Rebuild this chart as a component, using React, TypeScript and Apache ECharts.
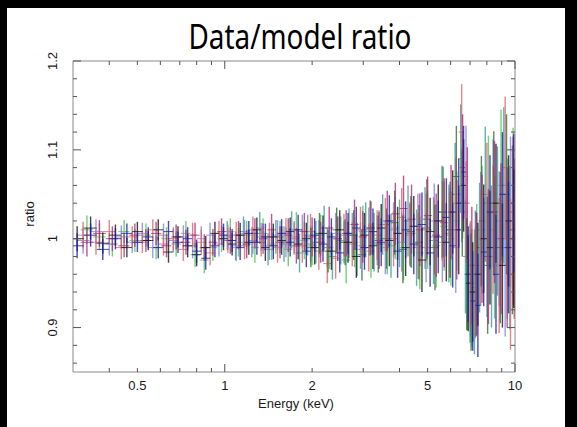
import React, { useEffect, useRef } from "react";
import * as echarts from "echarts";

// ---- energy grids (keV) ----
const eGridA = [
  0.31, 0.345, 0.38, 0.42, 0.46, 0.5, 0.545, 0.59, 0.64, 0.69,
  0.745, 0.8, 0.86, 0.925, 0.99, 1.06, 1.13, 1.21, 1.29, 1.38,
  1.47, 1.57, 1.68, 1.79, 1.91, 2.04, 2.18, 2.33, 2.49, 2.66,
  2.84, 3.03, 3.24, 3.46, 3.69, 3.94, 4.2, 4.48, 4.78, 5.1,
  5.44, 5.8, 6.1, 6.4, 6.65, 6.9, 7.15, 7.45, 7.8, 8.2,
  8.6, 9.05, 9.5, 9.9,
];
const errGridA = [
  0.014, 0.013, 0.012, 0.012, 0.011, 0.011, 0.011, 0.012, 0.012, 0.012,
  0.013, 0.013, 0.013, 0.013, 0.013, 0.013, 0.014, 0.014, 0.014, 0.015,
  0.015, 0.016, 0.016, 0.017, 0.018, 0.019, 0.02, 0.021, 0.022, 0.023,
  0.024, 0.025, 0.026, 0.027, 0.029, 0.03, 0.032, 0.034, 0.036, 0.038,
  0.041, 0.044, 0.047, 0.05, 0.052, 0.054, 0.056, 0.058, 0.061, 0.064,
  0.067, 0.07, 0.074, 0.078,
];
const eGridB = [
  0.325, 0.36, 0.4, 0.44, 0.48, 0.52, 0.565, 0.615, 0.665, 0.72,
  0.775, 0.83, 0.89, 0.955, 1.025, 1.095, 1.17, 1.25, 1.335, 1.425,
  1.52, 1.625, 1.735, 1.85, 1.975, 2.11, 2.255, 2.41, 2.575, 2.75,
  2.935, 3.135, 3.35, 3.575, 3.815, 4.07, 4.34, 4.63, 4.94, 5.27,
  5.62, 5.95, 6.25, 6.55, 6.78, 7.02, 7.3, 7.62, 8.0, 8.4,
  8.82, 9.25, 9.65, 9.95,
];
const errGridB = [
  0.015, 0.014, 0.013, 0.013, 0.012, 0.012, 0.012, 0.013, 0.013, 0.013,
  0.014, 0.014, 0.014, 0.014, 0.014, 0.015, 0.015, 0.015, 0.016, 0.016,
  0.017, 0.017, 0.018, 0.019, 0.02, 0.021, 0.022, 0.023, 0.024, 0.025,
  0.026, 0.027, 0.028, 0.03, 0.031, 0.033, 0.035, 0.037, 0.039, 0.042,
  0.045, 0.048, 0.051, 0.054, 0.057, 0.06, 0.062, 0.065, 0.068, 0.072,
  0.076, 0.08, 0.085, 0.09,
];
const eGridC = [
  0.335, 0.37, 0.41, 0.45, 0.49, 0.535, 0.58, 0.63, 0.68, 0.735,
  0.79, 0.85, 0.91, 0.975, 1.045, 1.115, 1.19, 1.27, 1.355, 1.45,
  1.55, 1.655, 1.765, 1.88, 2.0, 2.14, 2.29, 2.45, 2.62, 2.8,
  2.99, 3.19, 3.4, 3.63, 3.87, 4.13, 4.4, 4.7, 5.0, 5.35,
  5.7, 6.02, 6.3, 6.6, 6.85, 7.1, 7.38, 7.7, 8.1, 8.5,
  8.95, 9.4, 9.85,
];
const errGridC = [
  0.016, 0.015, 0.014, 0.013, 0.013, 0.013, 0.013, 0.013, 0.014, 0.014,
  0.014, 0.015, 0.015, 0.015, 0.015, 0.016, 0.016, 0.017, 0.017, 0.018,
  0.018, 0.019, 0.02, 0.021, 0.022, 0.023, 0.024, 0.025, 0.026, 0.028,
  0.029, 0.03, 0.032, 0.034, 0.035, 0.037, 0.039, 0.041, 0.044, 0.047,
  0.05, 0.053, 0.056, 0.06, 0.063, 0.066, 0.069, 0.072, 0.076, 0.08,
  0.085, 0.09, 0.095,
];
const eGridD = [
  1.02, 1.09, 1.16, 1.24, 1.32, 1.41, 1.5, 1.6, 1.7, 1.81,
  1.93, 2.06, 2.2, 2.35, 2.51, 2.68, 2.86, 3.06, 3.27, 3.5,
  3.74, 4.0, 4.28, 4.58, 4.9, 5.24, 5.6, 5.92, 6.22, 6.5,
  6.75, 7.0, 7.25, 7.55, 7.9, 8.3, 8.7, 9.15, 9.6,
];
const errGridD = [
  0.016, 0.016, 0.017, 0.017, 0.018, 0.018, 0.019, 0.02, 0.021, 0.022,
  0.023, 0.024, 0.025, 0.026, 0.027, 0.028, 0.03, 0.031, 0.033, 0.034,
  0.036, 0.038, 0.04, 0.043, 0.046, 0.049, 0.052, 0.055, 0.058, 0.061,
  0.064, 0.067, 0.07, 0.073, 0.076, 0.08, 0.084, 0.088, 0.092,
];
const eGridE = [
  1.98, 2.12, 2.27, 2.43, 2.6, 2.78, 2.97, 3.17, 3.38, 3.61,
  3.85, 4.11, 4.38, 4.67, 4.97, 5.3, 5.65, 5.98, 6.28, 6.58,
  6.82, 7.06, 7.34, 7.66, 8.05, 8.45, 8.9, 9.35, 9.8,
];
const errGridE = [
  0.022, 0.023, 0.024, 0.025, 0.026, 0.028, 0.029, 0.031, 0.032, 0.034,
  0.036, 0.038, 0.04, 0.042, 0.045, 0.048, 0.051, 0.054, 0.057, 0.06,
  0.063, 0.066, 0.07, 0.073, 0.077, 0.081, 0.085, 0.09, 0.095,
];

// ---- data/model ratios ----
const ratioBlack = [
  1.0, 1.012, 0.995, 1.004, 0.99, 1.008, 0.998, 1.01, 0.985, 1.002,
  0.992, 0.982, 0.99, 1.006, 1.0, 0.994, 1.004, 0.996, 1.01, 0.99,
  1.002, 0.998, 1.008, 0.994, 1.0, 0.99, 1.006, 0.986, 1.01, 0.996,
  0.98, 1.004, 0.992, 1.012, 0.998, 1.006, 0.99, 1.014, 0.976, 1.008,
  1.02, 0.996, 1.03, 1.01, 1.06, 0.95, 0.94, 0.96, 1.0, 0.99,
  1.04, 0.97, 1.02, 1.0,
];
const ratioBlue = [
  0.992, 1.004, 0.988, 1.0, 1.006, 0.996, 1.002, 0.99, 1.008, 0.996,
  1.0, 0.986, 0.978, 0.992, 1.004, 0.998, 0.99, 1.006, 0.996, 1.002,
  0.992, 1.006, 0.996, 1.01, 0.986, 1.004, 0.994, 1.002, 0.984, 1.006,
  1.012, 0.99, 1.008, 0.996, 1.02, 0.986, 1.01, 0.994, 1.016, 0.984,
  1.002, 1.024, 0.992, 1.04, 1.075, 0.96, 0.93, 0.925, 0.985, 1.03,
  0.96, 1.05, 0.99, 1.04,
];
const ratioRed = [
  1.004, 0.996, 1.008, 0.99, 1.002, 0.996, 1.01, 0.994, 1.0, 0.988,
  1.004, 0.996, 0.984, 1.006, 0.998, 1.004, 0.992, 1.01, 0.996, 1.002,
  0.99, 1.006, 1.0, 0.992, 1.008, 0.986, 0.972, 0.978, 1.004, 0.994,
  1.01, 0.99, 1.004, 1.016, 1.0, 1.024, 1.006, 0.992, 1.012, 1.002,
  1.02, 1.004, 1.04, 1.12, 1.03, 0.96, 0.95, 0.99, 1.04, 1.01,
  0.97, 1.08, 0.96, 1.0,
];
const ratioViolet = [
  0.998, 1.008, 0.994, 1.002, 0.996, 1.006, 0.99, 1.004, 0.998, 1.002,
  0.992, 1.0, 1.004, 0.994, 1.002, 0.99, 1.006, 0.998, 1.002, 0.992,
  1.004, 0.996, 1.002, 1.008, 0.994, 1.0, 0.99, 1.006, 0.996, 1.004,
  0.992, 1.008, 0.998, 0.99, 1.01, 0.996, 1.004, 1.014, 0.99, 1.02,
  0.996, 1.01, 0.99, 1.05, 1.07, 0.95, 0.97, 1.01, 0.98, 1.04,
  1.0, 0.97, 1.03, 1.0,
];
const ratioGreen = [
  1.01, 1.002, 0.994, 1.008, 0.998, 1.004, 0.99, 1.0, 0.994, 1.006,
  0.982, 0.976, 0.99, 1.0, 1.008, 0.996, 1.004, 0.99, 1.006, 0.994,
  1.002, 0.988, 1.01, 0.998, 0.992, 1.004, 0.99, 1.0, 0.976, 0.996,
  1.008, 0.986, 1.0, 0.994, 1.012, 0.99, 1.006, 0.984, 1.01, 0.992,
  1.014, 1.0, 1.02, 1.06, 0.96, 0.945, 0.97, 1.01, 1.04, 0.99,
  1.06, 1.0, 1.03,
];
const ratioMagenta = [
  0.996, 1.006, 1.0, 0.992, 1.004, 0.998, 1.006, 0.992, 1.002, 0.996,
  1.004, 0.99, 0.996, 1.008, 0.998, 1.004, 0.994, 1.006, 1.0, 1.01,
  0.996, 1.004, 0.992, 1.008, 1.002, 0.996, 1.012, 1.0, 1.006, 1.016,
  1.002, 1.012, 0.998, 1.02, 1.028, 1.034, 1.022, 1.01, 1.026, 1.004,
  1.018, 1.03, 1.01, 1.08, 1.04, 0.97, 0.96, 1.0, 0.98, 1.03,
  1.0, 0.99, 1.02,
];
const ratioTeal = [
  1.004, 0.992, 1.008, 0.996, 1.012, 0.988, 1.002, 0.994, 1.01, 0.984,
  1.004, 0.996, 1.012, 0.98, 0.998, 1.006, 0.988, 1.01, 0.996, 1.016,
  0.992, 1.006, 1.02, 0.99, 1.012, 0.998, 1.03, 1.006, 1.05, 1.09,
  0.98, 0.95, 0.94, 0.99, 1.05, 0.98, 1.02, 1.06, 0.99,
];
const ratioDarkGreen = [
  0.99, 1.006, 0.986, 1.01, 0.996, 1.004, 0.982, 1.012, 0.994, 1.0,
  1.018, 0.988, 1.008, 0.996, 1.022, 0.99, 1.03, 1.01, 1.07, 1.04,
  0.96, 0.94, 0.96, 1.02, 0.97, 1.04, 0.99, 1.05, 1.01,
];

// ---- axis ticks / labels ----
const xLabelValues = [0.5, 1, 2, 5, 10];
const xTickLabels = ["0.5", "1", "2", "5", "10"];
const xMajorTicks = [1, 10];
const xMinorTicks = [0.4, 0.5, 0.6, 0.7, 0.8, 0.9, 2, 3, 4, 5, 6, 7, 8, 9];
const yLabelValues = [0.9, 1, 1.1, 1.2];
const yTickLabels = ["0.9", "1", "1.1", "1.2"];
const yMajorTicks = [0.9, 1.0, 1.1, 1.2];
const yMinorTicks = [0.86, 0.88, 0.92, 0.94, 0.96, 0.98, 1.02, 1.04, 1.06, 1.08, 1.12, 1.14, 1.16, 1.18];

const X_MIN = 0.3;
const X_MAX = 10;
const Y_MIN = 0.85;
const Y_MAX = 1.2;

const AXIS_FONT = '13px "Liberation Sans", Arial, sans-serif';
const FRAME = "#8a8a8a";

function buildBars(E: number[], v: number[], err: number[]) {
  return E.map((e, i) => {
    const prev = i > 0 ? E[i - 1] : (e * e) / E[i + 1];
    const next = i < E.length - 1 ? E[i + 1] : (e * e) / E[i - 1];
    const lo = Math.max(Math.sqrt(prev * e), X_MIN);
    const hi = Math.min(Math.sqrt(e * next), X_MAX);
    return [e, v[i], err[i], lo, hi];
  });
}

function errSeries(name: string, color: string, data: number[][]) {
  return {
    type: "custom",
    name,
    clip: true,
    silent: true,
    data,
    renderItem: (params: any, api: any) => {
      const e = api.value(0);
      const v = api.value(1);
      const er = api.value(2);
      const lo = api.value(3);
      const hi = api.value(4);
      const a = api.coord([lo, v]);
      const b = api.coord([hi, v]);
      const c = api.coord([e, v - er]);
      const d = api.coord([e, v + er]);
      const style = { stroke: color, lineWidth: 1.4, opacity: 0.8 };
      return {
        type: "group",
        children: [
          { type: "line", shape: { x1: a[0], y1: a[1], x2: b[0], y2: b[1] }, style: { ...style, lineWidth: 1 } },
          { type: "line", shape: { x1: c[0], y1: c[1], x2: d[0], y2: d[1] }, style },
        ],
      };
    },
  };
}

export default function App() {
  const ref = useRef<HTMLDivElement>(null);

  useEffect(() => {
    if (!ref.current) return;
    const chart = echarts.init(ref.current, undefined, { renderer: "svg" });

    const xTicks = [
      ...xMajorTicks.map((t) => [t, 1, 1]),
      ...xMinorTicks.map((t) => [t, 1, 0]),
    ];
    const yTicks = [
      ...yMajorTicks.map((t) => [1, t, 1]),
      ...yMinorTicks.map((t) => [1, t, 0]),
    ];

    const center = { align: "center", textAlign: "center", verticalAlign: "middle", textVerticalAlign: "middle" };

    const option: any = {
      animation: false,
      backgroundColor: "#ffffff",
      grid: {
        left: 73,
        top: 61,
        right: 62,
        bottom: 55,
        show: true,
        borderColor: FRAME,
        borderWidth: 1,
        backgroundColor: "transparent",
      },
      xAxis: {
        type: "log",
        logBase: 10,
        min: X_MIN,
        max: X_MAX,
        axisLine: { show: false },
        axisTick: { show: false },
        axisLabel: { show: false },
        splitLine: { show: false },
      },
      yAxis: {
        type: "value",
        min: Y_MIN,
        max: Y_MAX,
        axisLine: { show: false },
        axisTick: { show: false },
        axisLabel: { show: false },
        splitLine: { show: false },
      },
      graphic: [
        { type: "rect", shape: { x: 0, y: 0, width: 7, height: 427 }, style: { fill: "#000" } },
        { type: "rect", shape: { x: 0, y: 0, width: 577, height: 8 }, style: { fill: "#000" } },
        { type: "rect", shape: { x: 565, y: 0, width: 12, height: 427 }, style: { fill: "#000" } },
        {
          type: "text",
          x: 300,
          y: 36,
          scaleX: 0.82,
          style: { text: "Data/model ratio", font: '34px "Noto Sans", sans-serif', fill: "#000", ...center },
        },
        {
          type: "text",
          x: 29,
          y: 214,
          rotation: Math.PI / 2,
          style: { text: "ratio", font: AXIS_FONT, fill: "#1a1a1a", ...center },
        },
        {
          type: "text",
          x: 296,
          y: 403,
          style: { text: "Energy (keV)", font: AXIS_FONT, fill: "#1a1a1a", ...center },
        },
      ],
      series: [
        errSeries("green", "#4fc64f", buildBars(eGridC, ratioGreen, errGridC)),
        errSeries("teal", "#3c9c9c", buildBars(eGridD, ratioTeal, errGridD)),
        errSeries("violet", "#8282dc", buildBars(eGridB, ratioViolet, errGridB)),
        errSeries("red", "#d86868", buildBars(eGridB, ratioRed, errGridB)),
        errSeries("darkgreen", "#2f6e36", buildBars(eGridE, ratioDarkGreen, errGridE)),
        errSeries("magenta", "#b02a7a", buildBars(eGridC, ratioMagenta, errGridC)),
        errSeries("black", "#141414", buildBars(eGridA, ratioBlack, errGridA)),
        errSeries("blue", "#1c1ca8", buildBars(eGridA, ratioBlue, errGridA)),
        {
          type: "custom",
          name: "xticks",
          silent: true,
          clip: false,
          z: 10,
          data: xTicks,
          renderItem: (params: any, api: any) => {
            const p = api.coord([api.value(0), 1]);
            const cs = params.coordSys;
            const len = api.value(2) ? 8 : 4;
            const style = { stroke: "#555", lineWidth: 1 };
            const bottom = cs.y + cs.height;
            return {
              type: "group",
              children: [
                { type: "line", shape: { x1: p[0], y1: bottom, x2: p[0], y2: bottom - len }, style },
                { type: "line", shape: { x1: p[0], y1: cs.y, x2: p[0], y2: cs.y + len }, style },
              ],
            };
          },
        },
        {
          type: "custom",
          name: "yticks",
          silent: true,
          clip: false,
          z: 10,
          data: yTicks,
          renderItem: (params: any, api: any) => {
            const p = api.coord([1, api.value(1)]);
            const cs = params.coordSys;
            const len = api.value(2) ? 8 : 4;
            const style = { stroke: "#555", lineWidth: 1 };
            const right = cs.x + cs.width;
            return {
              type: "group",
              children: [
                { type: "line", shape: { x1: cs.x, y1: p[1], x2: cs.x + len, y2: p[1] }, style },
                { type: "line", shape: { x1: right, y1: p[1], x2: right - len, y2: p[1] }, style },
              ],
            };
          },
        },
        {
          type: "custom",
          name: "xlabels",
          silent: true,
          clip: false,
          z: 10,
          data: xLabelValues.map((v, i) => [v, 1, i]),
          renderItem: (params: any, api: any) => {
            const p = api.coord([api.value(0), 1]);
            const cs = params.coordSys;
            return {
              type: "text",
              x: p[0],
              y: cs.y + cs.height + 13,
              style: { text: xTickLabels[api.value(2)], font: AXIS_FONT, fill: "#1a1a1a", ...center },
            };
          },
        },
        {
          type: "custom",
          name: "ylabels",
          silent: true,
          clip: false,
          z: 10,
          data: yLabelValues.map((v, i) => [1, v, i]),
          renderItem: (params: any, api: any) => {
            const p = api.coord([1, api.value(1)]);
            const cs = params.coordSys;
            return {
              type: "text",
              x: cs.x - 21,
              y: p[1],
              rotation: Math.PI / 2,
              style: { text: yTickLabels[api.value(2)], font: AXIS_FONT, fill: "#1a1a1a", ...center },
            };
          },
        },
      ],
    };

    chart.setOption(option);
    return () => chart.dispose();
  }, []);

  return (
    <div style={{ position: "fixed", left: 0, top: 0, width: 577, height: 427, background: "#fff" }}>
      <div ref={ref} style={{ width: 577, height: 427 }} />
    </div>
  );
}
